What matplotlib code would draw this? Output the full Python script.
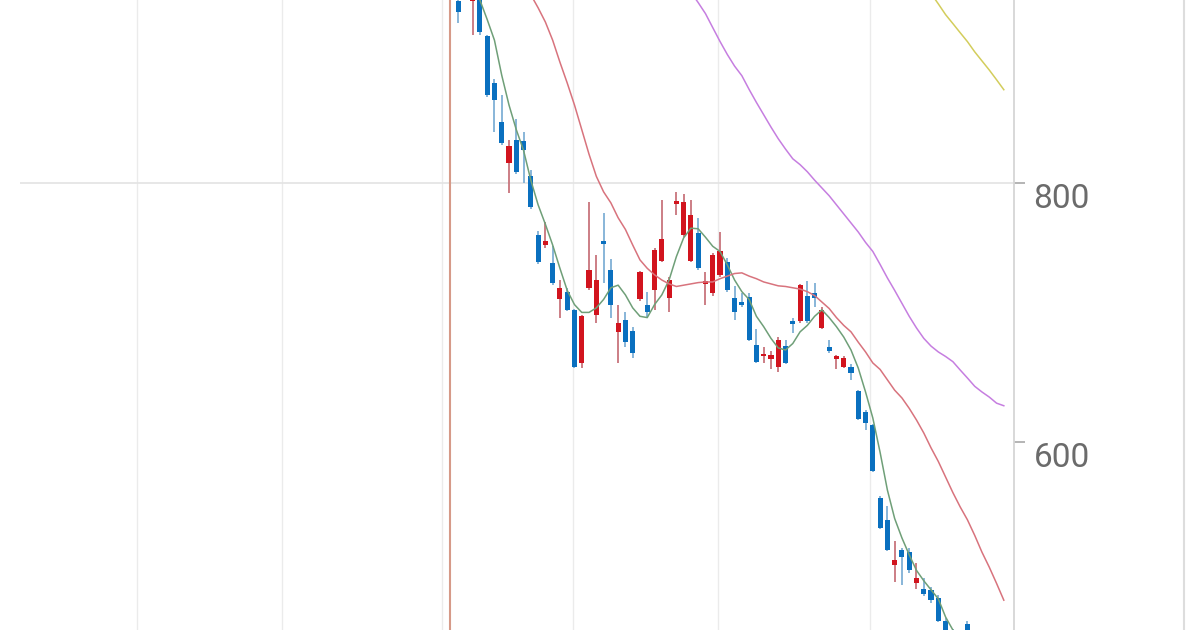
import numpy as np
import matplotlib
matplotlib.use("Agg")
import matplotlib.pyplot as plt
from matplotlib.lines import Line2D

nan = np.nan

# daily candles (open, high, low, close)
opens = [940, 952, 940, 948, 913, 877, 847, 815, 833, 832,
         805, 760, 752, 738, 710, 716, 702, 661, 719, 698,
         755, 733, 685, 694, 686, 710, 706, 717, 740, 711,
         784, 760, 740, 761, 722, 715, 729, 739, 711, 708,
         712, 675, 666, 664, 658, 674, 693, 693, 713, 715,
         688, 673, 664, 658, 658, 639, 623, 613, 557, 540,
         505, 517, 515, 491, 487, 486, 480, 462, 452, 450,
         460, 445, 436, 430, 432, 424]
highs = [946, 958, 950, 950, 914, 880, 868, 833, 849, 839,
         810, 763, 770, 751, 725, 719, 703, 698, 785, 744,
         777, 741, 706, 700, 689, 732, 716, 750, 787, 727,
         793, 791, 787, 773, 731, 746, 762, 742, 720, 715,
         715, 687, 673, 670, 681, 679, 696, 722, 724, 723,
         704, 679, 667, 666, 660, 640, 625, 614, 558, 551,
         524, 518, 518, 507, 495, 488, 482, 464, 456, 454,
         462, 448, 440, 436, 438, 430]
lows = [923, 946, 914, 914, 866, 839, 829, 792, 807, 800,
        780, 737, 750, 721, 696, 701, 657, 657, 717, 692,
        723, 696, 661, 673, 665, 709, 696, 702, 739, 700,
        775, 758, 739, 733, 706, 713, 727, 716, 694, 704,
        678, 661, 661, 656, 654, 660, 684, 692, 692, 704,
        687, 669, 656, 657, 648, 617, 609, 577, 533, 516,
        492, 490, 499, 487, 481, 476, 461, 445, 444, 440,
        445, 432, 425, 420, 418, 410]
closes = [932, 948, 946, 916, 868, 864, 831, 828, 808, 825,
          781, 739, 755, 723, 719, 702, 658, 697, 733, 725,
          753, 706, 692, 677, 669, 731, 700, 748, 757, 725,
          786, 785, 775, 734, 724, 744, 747, 717, 700, 706,
          679, 662, 668, 667, 679, 661, 691, 721, 693, 711,
          702, 670, 666, 665, 653, 618, 615, 578, 534, 517,
          509, 511, 501, 495, 483, 478, 462, 448, 448, 445,
          448, 436, 428, 433, 422, 414]

# moving averages
ma5 = [965, 958, 950, 941, 926, 910, 883, 860, 841, 825,
       802, 783, 768, 752, 734, 717, 706, 700, 700, 703.5,
       710, 719, 721, 713.5, 703.5, 697, 696, 706, 713.5, 725,
       743, 757.5, 765, 764.5, 758, 751, 747, 736.7, 725, 716,
       710, 697, 689, 680, 672.6, 671, 676, 685, 690, 697,
       702, 696, 689, 681, 671, 657, 638.6, 618.5, 592, 563,
       541, 526, 513, 501, 493, 486, 479, 465, 455, 447,
       440, 434, 428, 426, 424, 420]
ma20 = [nan, nan, nan, nan, nan, nan, nan, nan, 965, 955,
        945, 935, 924, 910, 893, 877, 860, 841, 822, 805,
        793, 784.5, 773, 764, 752, 740.5, 734, 729, 725, 722,
        720, 721, 722, 723, 723.5, 723.5, 726, 728, 730, 730.5,
        728, 726, 723.5, 722, 720.5, 720, 719, 718, 716, 713,
        708, 703, 696, 690, 685, 677, 669.5, 661, 656, 648,
        640, 634, 626, 617, 607, 595.5, 585, 573, 561, 550,
        540, 528, 515, 503.5, 491, 478]
ma60 = [nan] * 30 + [965, 955, 947, 939, 930.5, 919.7, 909, 899, 890, 882.6,
                     872, 862, 852.5, 843, 834, 826, 818.5, 814, 808.5, 802,
                     796, 790, 783, 776, 769, 762, 754, 747, 737, 726.6,
                     717, 707, 697, 688, 680, 674, 669.5, 666, 662, 655.6,
                     649.4, 643, 638.6, 634.7, 630, 628]
ma120 = [nan] * 64 + [953, 946, 938, 929.7, 922.8, 915.8, 908.9, 901,
                      894, 887, 879.5, 871.8]

month_lines = [-44.1, -24.2, -2.2, 15.8, 35.7, 56.6]
marker_day = -1.1

x = np.arange(len(opens))
o = np.array(opens, dtype=float)
c = np.array(closes, dtype=float)
up = c >= o

fig = plt.figure(figsize=(12, 6.3), dpi=100)
ax = fig.add_axes([20 / 1200, 0, 994 / 1200, 1])
ax.set_xlim(-60.2, 76.4)
ax.set_ylim(455, 941)

# grid
for m in month_lines:
    ax.axvline(m, color="#ebebeb", lw=1, zorder=0)
ax.axhline(800, color="#e3e3e3", lw=1.2, zorder=0)
ax.axvline(marker_day, color="#d69a88", lw=1.5, zorder=1)

# candles
body_col = np.where(up, "#d2141e", "#0a70bf")
wick_col = np.where(up, "#c8747c", "#7fb0d6")
ax.vlines(x, lows, highs, colors=wick_col, lw=1.3, zorder=2)
ax.bar(x, np.maximum(np.abs(c - o), 1.2), bottom=np.minimum(o, c),
       width=0.7, color=body_col, zorder=3)

# moving averages
ax.plot(x, ma5, color="#6f9f78", lw=1.1, zorder=4)
ax.plot(x, ma20, color="#d8737d", lw=1.1, zorder=4)
ax.plot(x, ma60, color="#c67ee0", lw=1.1, zorder=4)
ax.plot(x, ma120, color="#d3cd5c", lw=1.1, zorder=4)

for s in ["top", "left", "bottom"]:
    ax.spines[s].set_visible(False)
ax.spines["right"].set_color("#d6d6d6")
ax.spines["right"].set_linewidth(1.3)
ax.set_xticks([])
ax.yaxis.tick_right()
ax.set_yticks([600, 800])
ax.tick_params(axis="y", length=8, width=1.2, color="#a8a8a8",
               labelsize=24, labelcolor="#6b6b6b", pad=6)
for lbl in ax.get_yticklabels():
    lbl.set_fontfamily(["Roboto", "DejaVu Sans"])
    lbl.set_verticalalignment("top")

fig.add_artist(Line2D([1184 / 1200, 1184 / 1200], [0, 1], color="#dddddd", lw=1.5))

fig.savefig("out.png", dpi=100, facecolor="white")
